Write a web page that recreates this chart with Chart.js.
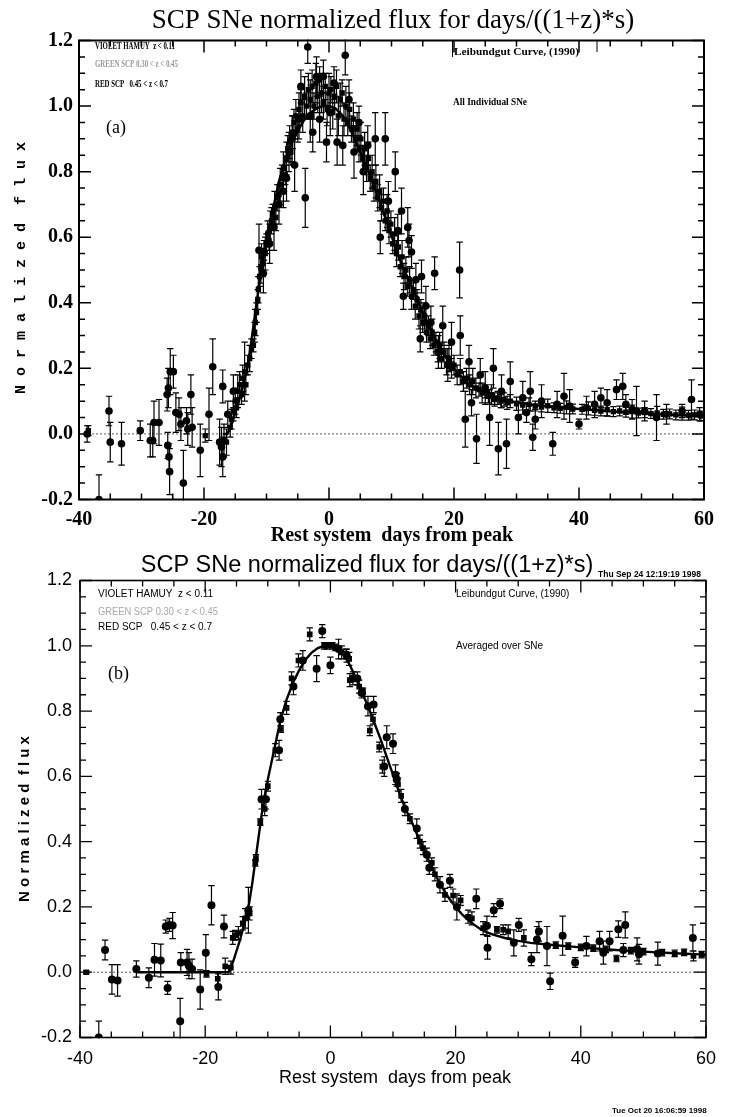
<!DOCTYPE html>
<html><head><meta charset="utf-8">
<script src="https://cdn.jsdelivr.net/npm/chart.js@4.4.1/dist/chart.umd.min.js"></script>
<style>
html,body{margin:0;padding:0;background:#fff;}
#ca{position:absolute;left:0;top:0;}
#cb{position:absolute;left:0;top:548px;}
</style></head><body>
<canvas id="ca" width="738" height="548"></canvas>
<canvas id="cb" width="738" height="569"></canvas>
<script>
// ---------- axis tick labels ----------
const xTicks = [-40, -20, 0, 20, 40, 60];
const yTicks = [-0.2, 0.0, 0.2, 0.4, 0.6, 0.8, 1.0, 1.2];

// ---------- Leibundgut (1990) template curve ----------
const curveDay  = [-31,-17,-16.3,-16,-15.5,-15,-14.5,-14,-13.5,-13,
  -12.5,-12,-11.5,-11,-10.5,-10,-9,-8,-7,-6,
  -5,-4,-3,-2,-1,0,1,2,3,4,
  5,6,7,8,9,10,11,12,13,14,
  15,16,17,18,19,20,21,22,23,24,
  25,26,28,30,32,35,40,45,50,55,
  60];
const curveFlux = [0,0,0,0.01,0.035,0.065,0.095,0.13,0.17,0.21,
  0.27,0.34,0.41,0.48,0.54,0.59,0.68,0.77,0.835,0.885,
  0.925,0.957,0.979,0.993,1.0,1.0,0.993,0.975,0.945,0.905,
  0.86,0.815,0.765,0.715,0.66,0.605,0.55,0.50,0.46,0.415,
  0.372,0.33,0.29,0.255,0.225,0.2,0.178,0.16,0.145,0.132,
  0.122,0.115,0.104,0.096,0.09,0.084,0.076,0.069,0.063,0.058,
  0.054];

// ---------- panel (a): all individual SNe ----------
// low-z (Hamuy) points
const aLoDay = [-38.5,-19.8,-16.4,-15.8,-15.6,-15.3,-15.0,-14.8,-14.6,-14.3,
  -14.0,-13.8,-13.5,-13.3,-13.0,-12.7,-12.4,-12.1,-11.9,-11.8,
  -11.6,-11.4,-11.3,-11.1,-10.9,-10.8,-10.6,-10.4,-10.2,-10.0,
  -9.8,-9.6,-9.4,-9.2,-9.0,-8.7,-8.5,-8.3,-8.0,-7.8,
  -7.5,-7.3,-7.0,-6.8,-6.6,-6.3,-6.1,-5.8,-5.6,-5.3,
  -5.0,-4.8,-4.5,-4.2,-3.9,-3.6,-3.3,-3.0,-2.7,-2.4,
  -2.1,-1.8,-1.5,-1.2,-0.9,-0.6,-0.3,0.0,0.3,0.6,
  0.9,1.2,1.5,1.8,2.1,2.4,2.7,3.0,3.3,3.6,
  3.9,4.2,4.5,4.8,5.1,5.4,5.7,6.0,6.3,6.6,
  6.9,7.2,7.5,7.8,8.1,8.4,8.7,9.0,9.3,9.6,
  9.9,10.2,10.5,10.8,11.1,11.4,11.7,12.0,12.3,12.6,
  12.9,13.2,13.5,13.8,14.1,14.4,14.7,15.0,15.3,15.6,
  15.9,16.2,16.5,16.8,17.1,17.4,17.7,18.0,18.4,18.8,
  19.2,19.6,20.0,20.5,21.0,21.5,22.0,22.5,23.0,23.5,
  24.0,24.5,25.0,25.5,26.0,26.5,27.0,27.5,28.0,28.5,
  29.0,30.0,31.0,32.0,33.0,34.0,35.0,36.0,37.0,38.0,
  39.0,40.5,41.5,42.5,43.5,44.5,45.5,46.5,47.5,48.5,
  49.5,50.5,51.5,52.5,53.5,54.5,55.5,56.5,57.5,58.5,
  59.5];
const aLoFlux = [0.01,-0.005,-0.025,0.02,0.045,0.07,0.10,0.08,0.13,0.15,
  0.12,0.17,0.19,0.15,0.21,0.23,0.26,0.27,0.31,0.34,
  0.37,0.41,0.44,0.48,0.51,0.54,0.52,0.56,0.55,0.58,
  0.61,0.59,0.63,0.65,0.67,0.69,0.66,0.72,0.73,0.76,
  0.78,0.81,0.79,0.84,0.87,0.89,0.86,0.92,0.95,0.97,
  0.93,0.99,1.01,0.97,1.03,1.00,1.05,1.02,1.06,1.00,
  1.07,1.03,1.08,1.04,1.01,1.06,0.99,1.04,1.05,0.98,
  1.03,1.06,0.97,1.02,1.04,0.96,1.00,0.95,0.99,0.93,
  0.96,0.90,0.93,0.87,0.90,0.84,0.87,0.81,0.84,0.78,
  0.80,0.75,0.77,0.72,0.74,0.69,0.71,0.65,0.68,0.62,
  0.64,0.58,0.61,0.55,0.57,0.51,0.54,0.48,0.50,0.45,
  0.47,0.42,0.44,0.39,0.41,0.36,0.38,0.34,0.36,0.31,
  0.33,0.29,0.31,0.27,0.28,0.25,0.27,0.23,0.25,0.21,
  0.23,0.20,0.21,0.18,0.19,0.16,0.17,0.15,0.16,0.14,
  0.135,0.125,0.13,0.115,0.12,0.105,0.11,0.10,0.105,0.095,
  0.10,0.092,0.088,0.09,0.085,0.082,0.086,0.08,0.078,0.081,
  0.076,0.075,0.078,0.072,0.07,0.074,0.068,0.07,0.066,0.068,
  0.064,0.065,0.062,0.064,0.06,0.061,0.058,0.062,0.057,0.058,
  0.055];
const aLoErr = [0.015,0.02,0.04,0.03,0.03,0.03,0.04,0.03,0.05,0.04,
  0.03,0.04,0.09,0.03,0.03,0.04,0.03,0.02,0.03,0.04,
  0.03,0.03,0.04,0.03,0.05,0.04,0.04,0.03,0.05,0.03,
  0.04,0.03,0.05,0.04,0.03,0.05,0.04,0.04,0.03,0.05,
  0.04,0.05,0.03,0.05,0.04,0.05,0.04,0.05,0.04,0.05,
  0.04,0.05,0.04,0.05,0.06,0.04,0.05,0.06,0.05,0.04,
  0.06,0.05,0.04,0.06,0.05,0.04,0.05,0.06,0.04,0.05,
  0.04,0.05,0.06,0.05,0.04,0.05,0.06,0.04,0.05,0.04,
  0.05,0.04,0.05,0.04,0.05,0.04,0.05,0.04,0.05,0.04,
  0.05,0.04,0.05,0.04,0.05,0.04,0.04,0.03,0.05,0.04,
  0.04,0.03,0.05,0.04,0.04,0.03,0.05,0.04,0.04,0.03,
  0.04,0.04,0.03,0.04,0.03,0.04,0.03,0.03,0.04,0.03,
  0.03,0.03,0.04,0.03,0.03,0.03,0.04,0.03,0.03,0.03,
  0.04,0.03,0.03,0.03,0.04,0.03,0.03,0.03,0.04,0.03,
  0.02,0.03,0.02,0.02,0.03,0.02,0.02,0.02,0.02,0.02,
  0.02,0.02,0.015,0.02,0.015,0.015,0.02,0.015,0.015,0.02,
  0.015,0.015,0.02,0.015,0.015,0.02,0.015,0.015,0.015,0.02,
  0.015,0.015,0.015,0.02,0.015,0.015,0.015,0.02,0.015,0.015,
  0.015];
// high-z (SCP) points
const aHiDay = [-38.7,-36.8,-35.2,-35.0,-33.2,-30.2,-28.6,-28.2,-28.0,-27.2,
  -25.9,-25.7,-25.4,-25.8,-25.6,-25.5,-24.9,-24.5,-24.0,-23.7,
  -23.3,-22.8,-22.6,-22.1,-21.9,-20.6,-19.2,-18.6,-17.5,-17.2,
  -17.0,-17.0,-16.8,-16.2,-15.3,
  -11.2,-10.5,-9.5,-8.8,-8.0,-7.3,-6.8,-6.4,-5.9,-5.5,
  -4.8,-4.5,-3.8,-3.4,-3.0,-2.6,-2.0,-1.5,-0.9,-0.4,
  0.2,0.8,1.3,2.2,2.6,3.2,4.0,4.8,5.5,6.2,
  7.4,8.2,9.0,9.5,10.6,11.0,11.6,11.9,12.6,12.8,
  13.2,13.9,14.6,14.8,15.5,16.3,16.9,17.5,18.2,19.0,
  19.6,20.9,21.0,21.8,22.4,22.8,23.6,24.2,25.0,25.7,
  26.3,27.1,27.6,28.4,29.0,30.3,31.0,31.6,32.2,32.6,
  33.0,34.0,35.8,36.5,37.6,38.5,40.0,41.2,42.5,43.5,
  44.5,46.0,47.0,47.5,48.5,49.2,50.5,52.4,54.0,56.5,
  58.0,59.3];
const aHiFlux = [0.0,-0.2,0.07,-0.025,-0.03,0.01,-0.02,-0.02,0.035,0.035,
  0.12,0.14,0.19,-0.035,-0.07,-0.115,0.19,0.065,0.06,0.03,
  -0.15,0.04,0.015,0.12,0.02,-0.05,0.06,0.205,-0.025,-0.04,
  -0.07,0.145,-0.02,0.06,0.13,
  0.56,0.49,0.58,0.63,0.70,0.74,0.78,0.86,0.90,0.82,
  0.96,1.06,0.72,1.18,0.97,0.92,1.09,0.96,1.09,0.89,
  0.98,1.07,0.89,0.88,1.155,1.02,0.86,0.95,0.80,0.88,
  0.90,0.60,0.90,0.71,0.80,0.62,0.68,0.42,0.63,0.59,
  0.555,0.47,0.29,0.48,0.39,0.34,0.49,0.25,0.33,0.21,
  0.28,0.50,0.30,0.045,0.22,0.095,-0.015,0.18,0.14,0.05,
  0.20,-0.045,0.13,-0.03,0.16,0.05,0.11,0.065,0.13,-0.01,
  0.045,0.10,-0.03,0.09,0.115,0.085,0.03,0.08,0.09,0.11,
  0.095,0.135,0.145,0.09,0.075,0.07,0.07,0.05,0.06,0.07,
  0.105,0.06];
const aHiErr = [0.025,0.075,0.045,0.06,0.065,0.03,0.05,0.05,0.065,0.07,
  0.05,0.06,0.07,0.04,0.04,0.07,0.05,0.06,0.05,0.05,
  0.1,0.04,0.05,0.06,0.06,0.08,0.08,0.085,0.07,0.06,
  0.06,0.05,0.05,0.04,0.05,
  0.08,0.06,0.06,0.07,0.06,0.05,0.07,0.06,0.07,0.08,
  0.06,0.05,0.09,0.05,0.08,0.06,0.06,0.07,0.05,0.06,
  0.07,0.05,0.07,0.06,0.06,0.06,0.08,0.05,0.07,0.06,
  0.08,0.05,0.08,0.06,0.06,0.05,0.07,0.04,0.06,0.05,
  0.05,0.05,0.04,0.05,0.06,0.05,0.05,0.05,0.06,0.05,
  0.06,0.085,0.06,0.085,0.05,0.04,0.075,0.05,0.05,0.085,
  0.06,0.08,0.05,0.075,0.06,0.05,0.05,0.03,0.06,0.04,
  0.03,0.05,0.035,0.04,0.07,0.05,0.015,0.035,0.04,0.03,
  0.04,0.03,0.04,0.03,0.03,0.075,0.03,0.07,0.03,0.02,
  0.06,0.02];

// ---------- panel (b): averaged over SNe ----------
const bLoDay = [-39.0,-19.8,-18.0,-16.8,-15.9,-15.6,-15.2,-14.7,-14.0,-13.6,
  -12.9,-12.0,-11.9,-11.2,-10.5,-10.0,-8.8,-7.9,-7.0,-6.2,
  -5.1,-3.3,-1.0,-0.5,0.3,0.8,1.8,2.5,3.0,3.1,
  4.6,5.2,6.3,6.8,7.8,8.3,10.8,11.3,12.7,14.3,
  14.8,16.2,16.7,18.3,19.6,20.8,22.0,22.6,24.4,26.6,
  27.6,28.4,30.9,36.0,38.0,40.0,42.0,44.0,45.7,48.0,
  50.0,53.0,55.0,56.5,58.0,59.3];
const bLoFlux = [0.0,-0.005,-0.02,0.018,0.014,0.105,0.113,0.12,0.15,0.165,
  0.18,0.335,0.35,0.46,0.50,0.57,0.68,0.745,0.81,0.90,
  0.955,1.035,1.0,1.0,1.0,0.995,0.98,0.975,0.96,0.895,
  0.875,0.86,0.74,0.775,0.69,0.63,0.575,0.54,0.47,0.40,
  0.38,0.335,0.30,0.237,0.235,0.22,0.17,0.165,0.135,0.13,
  0.13,0.125,0.105,0.083,0.08,0.076,0.074,0.07,0.042,0.066,
  0.063,0.06,0.058,0.061,0.05,0.054];
const bLoErr = [0.005,0.01,0.02,0.025,0.02,0.02,0.015,0.02,0.02,0.03,
  0.02,0.01,0.01,0.01,0.02,0.015,0.02,0.01,0.02,0.02,
  0.02,0.02,0.01,0.01,0.01,0.01,0.02,0.015,0.02,0.02,
  0.02,0.01,0.015,0.015,0.015,0.02,0.02,0.02,0.015,0.02,
  0.02,0.015,0.02,0.02,0.02,0.015,0.02,0.02,0.02,0.01,
  0.015,0.02,0.025,0.01,0.01,0.01,0.01,0.01,0.01,0.01,
  0.01,0.01,0.01,0.01,0.015,0.01];
const bHiDay = [-37.0,-36.0,-34.9,-34.0,-31.0,-29.0,-28.1,-27.1,-26.0,-26.3,
  -25.7,-25.2,-24.0,-23.9,-22.9,-22.6,-22.1,-20.8,-19.9,-19.0,
  -17.9,-17.0,-13.1,-11.0,-10.3,-8.2,-8.0,-5.9,-4.4,-2.2,
  -1.3,0.0,1.3,2.6,3.6,4.3,5.0,6.0,6.9,8.6,
  9.0,10.0,10.4,10.6,11.9,13.8,15.4,15.8,17.5,19.1,
  20.2,23.3,25.0,25.1,26.1,27.1,29.3,30.1,32.1,33.0,
  33.3,34.6,35.1,37.1,39.1,40.9,43.0,43.6,44.6,46.0,
  46.8,47.1,49.0,49.3,52.3,57.9];
const bHiFlux = [-0.2,0.068,-0.022,-0.025,0.01,-0.017,0.038,0.036,-0.048,0.14,
  0.145,0.143,-0.15,0.03,0.03,0.02,0.01,-0.053,0.06,0.205,
  -0.045,0.14,0.19,0.53,0.53,0.68,0.775,0.875,0.955,0.93,
  1.045,0.94,0.99,0.97,0.9,0.9,0.855,0.815,0.82,0.63,
  0.72,0.70,0.605,0.59,0.5,0.44,0.36,0.32,0.268,0.28,
  0.2,0.225,0.142,0.075,0.19,0.21,0.09,0.145,0.04,0.1,
  0.125,0.08,-0.028,0.112,0.03,0.08,0.095,0.06,0.095,0.132,
  0.068,0.145,0.07,0.055,0.057,0.105];
const bHiErr = [0.05,0.03,0.045,0.048,0.025,0.03,0.05,0.05,0.02,0.02,
  0.02,0.04,0.07,0.03,0.04,0.04,0.03,0.06,0.055,0.06,
  0.04,0.035,0.07,0.03,0.03,0.03,0.02,0.025,0.03,0.04,
  0.02,0.025,0.03,0.02,0.02,0.02,0.015,0.03,0.025,0.03,
  0.035,0.03,0.03,0.02,0.02,0.03,0.02,0.02,0.025,0.02,
  0.04,0.03,0.03,0.035,0.02,0.015,0.04,0.02,0.02,0.04,
  0.03,0.06,0.025,0.06,0.015,0.03,0.03,0.035,0.03,0.025,
  0.02,0.04,0.035,0.03,0.035,0.04];

// ---------- helpers ----------
const SERIF = "'Liberation Serif','Times New Roman',serif";
const SANS = "'Liberation Sans',Arial,Helvetica,sans-serif";
const MONO = "'Liberation Mono','Courier New',monospace";

function pts(d, f) {
  const n = Math.min(d.length, f.length), out = [];
  for (let i = 0; i < n; i++) out.push({x: d[i], y: f[i]});
  return out;
}
function curvePts(fromDay) {
  return pts(curveDay, curveFlux).filter(p => p.x >= fromDay);
}

const decor = {
  id: 'decor',
  beforeDatasetsDraw(chart, args, o) {
    const ctx = chart.ctx, xs = chart.scales.x, ys = chart.scales.y, a = chart.chartArea;
    ctx.save();
    ctx.strokeStyle = '#000';
    ctx.lineWidth = 1;
    ctx.setLineDash([1.3, 2.7]);
    const y0 = ys.getPixelForValue(0);
    ctx.beginPath();
    ctx.moveTo(xs.getPixelForValue(o.zeroFrom), y0);
    ctx.lineTo(a.right, y0);
    ctx.stroke();
    ctx.setLineDash([]);
    ctx.beginPath();
    ctx.rect(a.left - 8, a.top - 1, a.right - a.left + 16, a.bottom - a.top + 2);
    ctx.clip();
    ctx.lineWidth = o.ebWidth;
    chart.data.datasets.forEach(ds => {
      if (!ds.errors) return;
      ds.data.forEach((p, i) => {
        const e = ds.errors[i];
        if (e == null) return;
        const px = xs.getPixelForValue(p.x);
        const y1 = ys.getPixelForValue(p.y - e), y2 = ys.getPixelForValue(p.y + e);
        const c = o.cap;
        ctx.beginPath();
        ctx.moveTo(px, y1); ctx.lineTo(px, y2);
        ctx.moveTo(px - c, y1); ctx.lineTo(px + c, y1);
        ctx.moveTo(px - c, y2); ctx.lineTo(px + c, y2);
        ctx.stroke();
      });
    });
    ctx.restore();
  },
  afterDraw(chart, args, o) {
    const ctx = chart.ctx, xs = chart.scales.x, ys = chart.scales.y, a = chart.chartArea;
    ctx.save();
    ctx.strokeStyle = '#000';
    ctx.lineWidth = o.frameWidth;
    ctx.strokeRect(a.left, a.top, a.right - a.left, a.bottom - a.top);
    ctx.lineWidth = o.tickWidth;
    ctx.beginPath();
    const nx = Math.round((xs.max - xs.min) / o.xMinor);
    for (let k = 0; k <= nx; k++) {
      const v = xs.min + k * o.xMinor;
      const major = xTicks.some(t => Math.abs(t - v) < 1e-6);
      const L = major ? o.major : o.minor;
      const px = xs.getPixelForValue(v);
      ctx.moveTo(px, a.bottom); ctx.lineTo(px, a.bottom - L);
      ctx.moveTo(px, a.top); ctx.lineTo(px, a.top + L);
    }
    const ny = Math.round((ys.max - ys.min) / o.yMinor);
    for (let k = 0; k <= ny; k++) {
      const v = ys.min + k * o.yMinor;
      const major = yTicks.some(t => Math.abs(t - v) < 1e-6);
      const L = major ? o.major : o.minor;
      const py = ys.getPixelForValue(v);
      ctx.moveTo(a.left, py); ctx.lineTo(a.left + L, py);
      ctx.moveTo(a.right, py); ctx.lineTo(a.right - L, py);
    }
    ctx.stroke();
    (o.lines || []).forEach(l => {
      ctx.lineWidth = 1;
      ctx.beginPath(); ctx.moveTo(l[0], l[1]); ctx.lineTo(l[2], l[3]); ctx.stroke();
    });
    (o.texts || []).forEach(t => {
      ctx.save();
      ctx.font = t.font;
      ctx.fillStyle = t.color || '#000';
      ctx.textAlign = t.align || 'left';
      ctx.textBaseline = 'alphabetic';
      ctx.translate(t.x, t.y);
      if (t.rot) ctx.rotate(t.rot);
      if (t.w) ctx.fillText(t.text, 0, 0, t.w); else ctx.fillText(t.text, 0, 0);
      ctx.restore();
    });
    ctx.restore();
  }
};

function build(id, o) {
  return new Chart(document.getElementById(id), {
    type: 'scatter',
    data: {datasets: o.datasets},
    options: {
      responsive: false,
      animation: false,
      events: [],
      layout: {padding: {left: 0, top: o.top, right: o.right, bottom: 0}},
      plugins: {legend: {display: false}, tooltip: {enabled: false}, title: {display: false}, decor: o.decor},
      scales: {
        x: {
          type: 'linear', min: -40, max: 60,
          afterBuildTicks: s => { s.ticks = xTicks.map(v => ({value: v})); },
          afterFit: s => { s.height = o.xH; },
          grid: {display: false, drawTicks: false},
          border: {display: false},
          ticks: {autoSkip: false, maxRotation: 0, padding: o.xPad, color: '#000', font: o.tickFont,
                  callback: v => String(v)}
        },
        y: {
          type: 'linear', min: -0.2, max: 1.2,
          afterBuildTicks: s => { s.ticks = yTicks.map(v => ({value: v})); },
          afterFit: s => { s.width = o.yW; },
          grid: {display: false, drawTicks: false},
          border: {display: false},
          ticks: {autoSkip: false, padding: o.yPad, color: '#000', font: o.tickFont,
                  callback: v => Number(v).toFixed(1)}
        }
      }
    },
    plugins: [decor]
  });
}

function seriesSets(loD, loF, loE, hiD, hiF, hiE, curveFrom, sq, rc, lw) {
  return [
    {label: 'SCP', data: pts(hiD, hiF), errors: hiE, pointStyle: 'circle', pointRadius: rc,
     backgroundColor: '#000', borderColor: '#000', borderWidth: 0, showLine: false},
    {label: 'Hamuy', data: pts(loD, loF), errors: loE, pointStyle: 'rect', pointRadius: sq,
     backgroundColor: '#000', borderColor: '#000', borderWidth: 0, showLine: false},
    {label: 'Leibundgut', data: curvePts(curveFrom), showLine: true, pointRadius: 0,
     borderColor: '#000', borderWidth: lw, tension: 0, fill: false}
  ];
}

// ---------- panel (a) ----------
build('ca', {
  top: 40.5, right: 34, yW: 79, xH: 48.5, xPad: 8, yPad: 6,
  tickFont: {family: SERIF, size: 20, weight: 'bold'},
  datasets: seriesSets(aLoDay, aLoFlux, aLoErr, aHiDay, aHiFlux, aHiErr, -17, 3.8, 3.8, 2.6),
  decor: {
    zeroFrom: -38.5, ebWidth: 1.2, cap: 3.2, frameWidth: 2, tickWidth: 1.5,
    xMinor: 5, yMinor: 0.05, major: 12, minor: 6,
    lines: [[452.5, 41, 452.5, 57], [597, 41, 597, 52]],
    texts: [
      {text: 'SCP SNe normalized flux for days/((1+z)*s)', x: 393, y: 28, align: 'center', font: `27px ${SERIF}`},
      {text: 'VIOLET HAMUY  z < 0.11', x: 95, y: 49, font: `bold 10px ${SERIF}`, w: 80},
      {text: 'GREEN SCP 0.30 < z < 0.45', x: 95, y: 67, font: `bold 10px ${SERIF}`, w: 83, color: '#9a9a9a'},
      {text: 'RED SCP   0.45 < z < 0.7', x: 95, y: 87, font: `bold 10px ${SERIF}`, w: 73},
      {text: 'Leibundgut Curve, (1990)', x: 454, y: 55, font: `bold 11.3px ${SERIF}`, w: 125},
      {text: 'All Individual SNe', x: 453, y: 105, font: `bold 11.3px ${SERIF}`, w: 74},
      {text: '(a)', x: 106, y: 133, font: `18px ${SERIF}`},
      {text: 'Rest system  days from peak', x: 392, y: 541, align: 'center', font: `bold 20px ${SERIF}`},
      {text: 'N o r m a l i z e d  f l u x', x: 25, y: 268, align: 'center', rot: -Math.PI / 2, font: `bold 15px ${MONO}`}
    ]
  }
});

// ---------- panel (b) ----------
build('cb', {
  top: 32.5, right: 32, yW: 80, xH: 79.5, xPad: 11, yPad: 8,
  tickFont: {family: SANS, size: 18, weight: 'normal'},
  datasets: seriesSets(bLoDay, bLoFlux, bLoErr, bHiDay, bHiFlux, bHiErr, -31, 4, 4, 2.4),
  decor: {
    zeroFrom: -38.5, ebWidth: 1.2, cap: 3.2, frameWidth: 1.6, tickWidth: 1.3,
    xMinor: 5, yMinor: 0.05, major: 12, minor: 6,
    lines: [],
    texts: [
      {text: 'SCP SNe normalized flux for days/((1+z)*s)', x: 367, y: 24, align: 'center', font: `23.5px ${SANS}`},
      {text: 'Thu Sep 24 12:19:19 1998', x: 598, y: 29, font: `bold 8.5px ${SANS}`, w: 138},
      {text: 'VIOLET HAMUY  z < 0.11', x: 98, y: 49, font: `10px ${SANS}`, w: 120},
      {text: 'GREEN SCP 0.30 < z < 0.45', x: 98, y: 67, font: `10px ${SANS}`, w: 120, color: '#a8a8a8'},
      {text: 'RED SCP   0.45 < z < 0.7', x: 98, y: 82, font: `10px ${SANS}`, w: 119},
      {text: 'Leibundgut Curve, (1990)', x: 456, y: 49, font: `10px ${SANS}`, w: 116},
      {text: 'Averaged over SNe', x: 456, y: 101, font: `10px ${SANS}`, w: 90},
      {text: '(b)', x: 108, y: 131, font: `18px ${SERIF}`},
      {text: 'Rest system  days from peak', x: 395, y: 535, align: 'center', font: `18px ${SANS}`},
      {text: 'N o r m a l i z e d  f l u x', x: 29, y: 271, align: 'center', rot: -Math.PI / 2, font: `bold 15px ${SANS}`},
      {text: 'Tue Oct 20 16:06:59 1998', x: 612, y: 565, font: `bold 8px ${SANS}`, w: 123}
    ]
  }
});
</script>
</body></html>
